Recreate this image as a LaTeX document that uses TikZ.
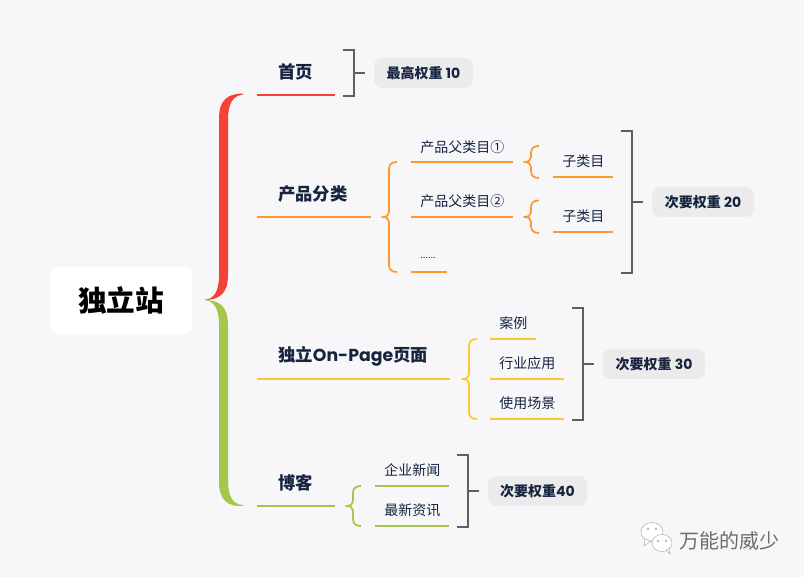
\documentclass[tikz,border=0pt]{standalone}
\usepackage{fontspec}
\setmainfont{Noto Sans CJK SC}
\newfontfamily\latinf{Poppins}
\definecolor{bgc}{RGB}{247,247,250}
\definecolor{inkc}{RGB}{22,36,62}
\definecolor{pillc}{RGB}{235,235,236}
\definecolor{brkc}{RGB}{95,95,99}
\definecolor{redc}{RGB}{244,67,54}
\definecolor{orac}{RGB}{255,153,46}
\definecolor{yelc}{RGB}{255,200,50}
\definecolor{grec}{RGB}{164,198,74}
\tikzset{
  topic/.style={anchor=west,inner sep=0pt,text=inkc,font=\fontsize{13}{15}\selectfont\bfseries},
  sub/.style={anchor=west,inner sep=0pt,text=inkc,font=\fontsize{10.5}{12}\selectfont},
  pill/.style={fill=pillc,rounded corners=6pt,inner sep=0pt,minimum height=22.5pt,text=inkc,font=\fontsize{10.5}{12}\selectfont\bfseries},
  under/.style={line width=1.5pt},
  brace/.style={line width=1.3pt,line join=round},
  brk/.style={line width=1.5pt,brkc}
}
% tip x, tip y, top y, bottom y
\newcommand{\thinbrace}[5]{
\draw [brace,#1] (#2+15,#4) .. controls (#2+10,#4) and (#2+7,#4+2) .. (#2+7,#4+7) -- (#2+7,#3-5)
  .. controls (#2+7,#3-2) and (#2+5,#3) .. (#2,#3) .. controls (#2+5,#3) and (#2+7,#3+2) .. (#2+7,#3+5)
  -- (#2+7,#5-7) .. controls (#2+7,#5-2) and (#2+10,#5) .. (#2+15,#5);
}
% pill, x of bar, top y, bottom y, y of stem
\newcommand{\bracket}[5]{
\coordinate (#1brk) at (#2,#5);
\draw [brk] (#2-11,#3) -- (#2,#3) -- (#2,#4) -- (#2-11,#4);
\draw [brk] (#1brk) -- ([xshift=-6.75pt]#1.west);
}
\begin{document}
\begin{tikzpicture}[x=0.75pt,y=-0.75pt]
\useasboundingbox (0,0) rectangle (804,577);
\fill [bgc] (0,0) rectangle (804,577);
% root
\node [fill=white,rounded corners=6pt,minimum width=106.5pt,minimum height=50.25pt,inner sep=0pt,font=\fontsize{21.5}{24}\selectfont\bfseries] (root) at (121,300.5) {独立站};
% big braces
\coordinate (tip) at (204,300);
\coordinate (redend) at (243,94.5);
\coordinate (greend) at (243,506);
\fill [redc] (tip) .. controls (220,300) and (228,293) .. (228,275) -- (228,120) .. controls (228,103) and (233,96) .. (redend) -- (243,93.5) .. controls (228,93.5) and (219,100) .. (219,118) -- (219,275) .. controls (219,292) and (214,299) .. (tip) -- cycle;
\fill [grec] (tip) .. controls (220,300) and (228,307) .. (228,325) -- (228,480) .. controls (228,497) and (233,504.5) .. (243,505) -- (greend) .. controls (228,507) and (219,500) .. (219,482) -- (219,325) .. controls (219,308) and (214,301) .. (tip) -- cycle;
% home
\node [topic] (home) at (278,72) {首页};
\coordinate (homeL) at (257,95);
\coordinate (homeR) at (335,95);
\draw [under,redc] (homeL) -- (homeR);
\node [pill,minimum width=74.25pt] (p10) at (423.5,73) {最高权重 {\latinf 10}};
\bracket{p10}{354}{50}{96}{73}
% products
\node [topic] (prod) at (278,194) {产品分类};
\coordinate (prodL) at (257,217);
\coordinate (prodR) at (371,217);
\draw [under,orac] (prodL) -- (prodR);
\thinbrace{orac}{382}{217}{162}{272}
\node [sub] (par1) at (420,147) {产品父类目①};
\node [sub] (par2) at (420,201) {产品父类目②};
\node [sub,font=\fontsize{7}{8}\selectfont] (par3) at (420,258) {......};
\draw [under,orac] (411,162) coordinate (par1L) -- (513,162) coordinate (par1R);
\draw [under,orac] (411,217) coordinate (par2L) -- (513,217) coordinate (par2R);
\draw [under,orac] (411,272) coordinate (par3L) -- (447,272) coordinate (par3R);
\thinbrace{orac}{524}{162}{146}{178}
\thinbrace{orac}{524}{217}{200.5}{233}
\node [sub] (kid1) at (562,161) {子类目};
\node [sub] (kid2) at (562,216) {子类目};
\draw [under,orac] (553,177) coordinate (kid1L) -- (613,177) coordinate (kid1R);
\draw [under,orac] (553,232) coordinate (kid2L) -- (613,232) coordinate (kid2R);
\node [pill,minimum width=76.5pt] (p20) at (703,202) {次要权重 {\latinf 20}};
\bracket{p20}{632}{131}{273}{202}
% on-page
\node [topic] (page) at (278,356) {独立{\latinf On-Page}页面};
\coordinate (pageL) at (257,379);
\coordinate (pageR) at (450,379);
\draw [under,yelc] (pageL) -- (pageR);
\thinbrace{yelc}{462}{379}{339}{419}
\node [sub] (case) at (499,323) {案例};
\node [sub] (trade) at (499,363) {行业应用};
\node [sub] (scene) at (499,403) {使用场景};
\draw [under,yelc] (490,339) coordinate (caseL) -- (536,339) coordinate (caseR);
\draw [under,yelc] (490,379) coordinate (tradeL) -- (564,379) coordinate (tradeR);
\draw [under,yelc] (490,419) coordinate (sceneL) -- (564,419) coordinate (sceneR);
\node [pill,minimum width=76.5pt] (p30) at (654,364) {次要权重 {\latinf 30}};
\bracket{p30}{583}{308}{420}{364}
% blog
\node [topic] (blog) at (278,483) {博客};
\coordinate (blogL) at (257,506);
\coordinate (blogR) at (335,506);
\draw [under,grec] (blogL) -- (blogR);
\thinbrace{grec}{346}{506}{486}{526}
\node [sub] (news) at (384,470) {企业新闻};
\node [sub] (info) at (384,510) {最新资讯};
\draw [under,grec] (375,486) coordinate (newsL) -- (449,486) coordinate (newsR);
\draw [under,grec] (375,526) coordinate (infoL) -- (449,526) coordinate (infoR);
\node [pill,minimum width=74.25pt] (p40) at (537.5,491) {次要权重{\latinf 40}};
\bracket{p40}{468}{455}{527}{491}
% watermark
\draw [fill=white,draw=gray!60,line width=0.4pt] (652,532) ellipse [x radius=11,y radius=9.5];
\draw [fill=white,draw=gray!60,line width=0.4pt] (645,539) -- (644,546) -- (651,541) -- cycle;
\fill [gray!70] (648,529) circle (1.2) (656,529) circle (1.2);
\draw [fill=white,draw=gray!60,line width=0.4pt] (662,543) ellipse [x radius=10,y radius=8.5];
\draw [fill=white,draw=gray!60,line width=0.4pt] (666,550) -- (670,554) -- (669,548) -- cycle;
\fill [gray!70] (658,541) circle (1.1) (666,541) circle (1.1);
\node [anchor=west,inner sep=0pt,text=gray!85!black,font=\fontsize{15}{17}\selectfont] (mark) at (679,541) {万能的威少};
\end{tikzpicture}
\end{document}
